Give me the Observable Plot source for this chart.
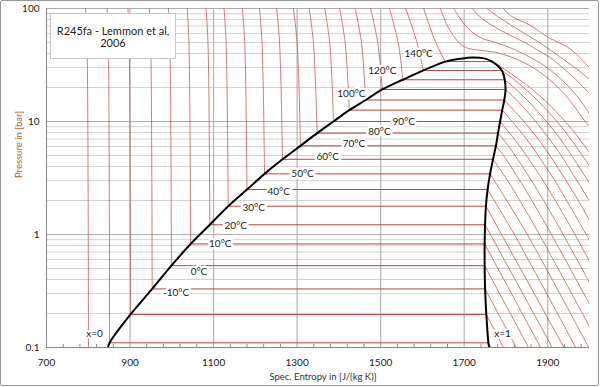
<!DOCTYPE html>
<html>
<head>
<meta charset="utf-8">
<script src="https://cdn.jsdelivr.net/npm/d3@7"></script>
<script src="https://cdn.jsdelivr.net/npm/@observablehq/plot@0.6"></script>
<style>
  body { margin: 0; background: white; }
  #wrap { position: relative; width: 600px; height: 387px; overflow: hidden; }
  #frame { position: absolute; left: 0; top: 0; width: 597px; height: 384px; border: 1px solid #9a9a9a; border-radius: 2px; pointer-events: none; }
  #note { position: absolute; left: 50px; top: 13px; width: 126px; height: 46px; border: 1px solid #c8c8c8; background: white;
          font-family: Lato, "Open Sans", sans-serif; font-size: 11px; line-height: 12px; color: #222; text-align: center;
          box-sizing: border-box; padding-top: 11px; }
</style>
</head>
<body>
<div id="wrap">
  <div id="chart"></div>
  <div id="note">R245fa - Lemmon et al,<br>2006</div>
  <div id="frame"></div>
</div>
<script>
// ---------- axis ticks ----------
const sTicks = [700, 900, 1100, 1300, 1500, 1700, 1900];
const sTickLabels = ["700", "900", "1100", "1300", "1500", "1700", "1900"];
const sMinorTicks = [740,780,820,860,940,980,1020,1060,1140,1180,1220,1260,1340,1380,1420,1460,1540,1580,1620,1660,1740,1780,1820,1860,1940,1980];
const pTicks = [0.1, 1, 10, 100];
const pTickLabels = ["0.1", "1", "10", "100"];
const pMinor = [0.2,0.3,0.4,0.5,0.6,0.7,0.8,0.9,2,3,4,5,6,7,8,9,20,30,40,50,60,70,80,90];

// ---------- saturation (two-phase) ----------
const satT = [-30,-20,-10,0,10,20,30,40,50,60,70,80,90,100,110,120,130,140,150];
const pSat = [0.110,0.196,0.330,0.530,0.825,1.22,1.78,2.50,3.44,4.63,6.09,7.89,10.0,12.6,15.5,19.2,23.4,28.3,33.9];
const sLiq = [851,901,953,999,1045,1091,1135,1180,1222,1265,1308,1348,1387,1425,1464,1504,1553,1602,1655];
const sVap = [1758,1753,1750,1749,1749,1750,1752,1756,1762,1769,1776,1781,1786,1791,1796,1799,1797,1790,1767];

// ---------- liquid-side isotherms (start, 50 bar, 100 bar) ----------
const liqT    = [-40,-30,-20,-10,0,10,20,30,40,50,60,70,80,90,100,110,120,130,140,150];
const liqS0   = [800.5,851,901,953,999,1045,1091,1135,1180,1222,1265,1308,1348,1387,1425,1464,1504,1553,1602,1655];
const liqP0   = [0.1,0.110,0.196,0.330,0.530,0.825,1.22,1.78,2.50,3.44,4.63,6.09,7.89,10.0,12.6,15.5,19.2,23.4,28.3,33.9];
const liqS50  = [797,848,898,949.5,995.5,1041,1086.6,1130,1174.6,1216,1258,1300,1339,1378,1415,1454,1493,1542,1587,1632];
const liqS100 = [793.5,845,895,946,992,1037,1082,1125,1169,1210,1251,1291,1329,1366,1402,1439,1476,1521,1560,1603];

// ---------- vapour / supercritical isotherms: [s, p] ----------
const vapT = [-30,-20,-10,0,10,20,30,40,50,60,70,80,90,100,110,120,130,140,150,160,170,180,190,200];
const vapPaths = [
  [[1758,0.110],[1764,0.1]],
  [[1753,0.196],[1794,0.1]],
  [[1750,0.330],[1825,0.1]],
  [[1749,0.530],[1854,0.1]],
  [[1749,0.825],[1883,0.1]],
  [[1750,1.22],[1911,0.1]],
  [[1752,1.78],[1939,0.1]],
  [[1756,2.50],[1820,1],[1967,0.1]],
  [[1762,3.44],[1851,1],[1998,0.1]],
  [[1769,4.63],[1804,3],[1833,2],[1880,1],[2027,0.1]],
  [[1776,6.09],[1794,5],[1833,3],[1862,2],[1909,1],[2056,0.1]],
  [[1781,7.89],[1793,7],[1822,5],[1861,3],[1890,2],[1937,1],[2084,0.1]],
  [[1786,10.0],[1820,7],[1849,5],[1889,3],[1918,2],[1965,1],[2112,0.1]],
  [[1791,12.6],[1815,10],[1849,7],[1877,5],[1917,3],[1945,2],[1992,1],[2139,0.1]],
  [[1796,15.5],[1843,10],[1877,7],[1905,5],[1944,3],[1973,2],[2019,1]],
  [[1799,19.2],[1829,15],[1871,10],[1904,7],[1932,5],[1970,3],[1999,2],[2046,1]],
  [[1797,23.4],[1819,20],[1854,15],[1897,10],[1930,7],[1957,5],[1996,3],[2025,2]],
  [[1790,28.3],[1804,26],[1842,20],[1878,15],[1922,10],[1955,7],[1983,5],[2022,3]],
  [[1767,33.9],[1779,32],[1791,30],[1857,20],[1896,15],[1942,10],[1976,7],[2005,5]],
  [[1643,100],[1660,70],[1678,55],[1692,48],[1705,45],[1730,43],[1775,41],[1805,38],[1830,35],[1865,30],[1895,25],[1925,20],[1955,15],[1990,10],[2015,8]],
  [[1675,100],[1692,80],[1712,65],[1740,55],[1775,50],[1810,45],[1840,40],[1870,35],[1898,30],[1925,25],[1952,20],[1980,15],[2012,10]],
  [[1719,100],[1745,80],[1775,68],[1810,58],[1845,50],[1875,43],[1905,37],[1935,30],[1965,24],[1995,18.5],[2015,16]],
  [[1755,100],[1780,85],[1810,72],[1845,60],[1880,50],[1910,42],[1940,35],[1970,29],[2000,23.5],[2020,20]],
  [[1794,100],[1811,86.5],[1859,70.6],[1901,55.6],[1954,43.9],[2000,30.1],[2015,27]]
];

// ---------- saturation dome (x=0 / x=1) ----------
const domeS = [847,851,901,953,999,1045,1091,1135,1180,1222,1265,1308,1348,1387,1425,1464,1504,1553,1602,1655,1690,1720,
               1748,1767,1790,1797,1799,1796,1791,1786,1781,1776,1769,1762,1756,1752,1750,1749,1749,1750,1753,1758,1760];
const domeP = [0.1,0.110,0.196,0.330,0.530,0.825,1.22,1.78,2.50,3.44,4.63,6.09,7.89,10.0,12.6,15.5,19.2,23.4,28.3,33.9,35.9,36.9,
               36.2,33.9,28.3,23.4,19.2,15.5,12.6,10.0,7.89,6.09,4.63,3.44,2.50,1.78,1.22,0.825,0.530,0.330,0.196,0.110,0.1];

// ---------- isotherm labels ----------
const labelText = ["-10°C","0°C","10°C","20°C","30°C","40°C","50°C","60°C","70°C","80°C","90°C","100°C","120°C","140°C"];
const labelS    = [1010,1065,1116,1153,1196,1256,1313,1373,1436,1497,1555,1430,1504,1591];
const labelP    = [0.305,0.467,0.822,1.194,1.713,2.40,3.45,4.85,6.3,8.1,9.96,17.7,28.2,40.1];
const qualText  = ["x=0", "x=1"];
const qualS     = [815, 1792];
const qualP     = [0.133, 0.131];

// ---------- build tables ----------
const liqRows = [];
liqT.forEach((T, i) => {
  liqRows.push({id: "L" + T, s: liqS0[i], p: liqP0[i]});
  liqRows.push({id: "L" + T, s: liqS50[i], p: 50});
  liqRows.push({id: "L" + T, s: liqS100[i], p: 100});
});
const vapRows = [];
vapT.forEach((T, i) => vapPaths[i].forEach(([s, p]) => vapRows.push({id: "V" + T, s, p})));
const domeRows = domeS.map((s, i) => ({s, p: domeP[i]}));
const satRows = satT.map((T, i) => ({T, s1: sLiq[i], s2: sVap[i], p: pSat[i]}));

const red = "#c0504d";
const font = "Lato, 'Open Sans', sans-serif";

const chart = Plot.plot({
  width: 600,
  height: 387,
  marginLeft: 46,
  marginRight: 11,
  marginTop: 8,
  marginBottom: 40,
  style: {fontFamily: font, fontSize: "10px", color: "#1a1a1a", background: "white"},
  x: {type: "linear", domain: [700, 2000]},
  y: {type: "log", domain: [0.1, 100]},
  marks: [
    Plot.ruleY(pMinor, {stroke: "#d2d2d2", strokeWidth: 1}),
    Plot.ruleY(pTicks, {stroke: "#aeaeae", strokeWidth: 1}),
    Plot.ruleX(sTicks.slice(1), {stroke: "#b4b4b4", strokeWidth: 1.2}),
    Plot.line(liqRows, {x: "s", y: "p", z: "id", stroke: red, strokeWidth: 0.75, curve: "catmull-rom", clip: true}),
    Plot.link(satRows, {x1: "s1", x2: "s2", y1: "p", y2: "p", stroke: "#b04a46", strokeWidth: 1, clip: true}),
    Plot.line(vapRows, {x: "s", y: "p", z: "id", stroke: red, strokeWidth: 0.75, curve: "catmull-rom", clip: true}),
    Plot.line(domeRows, {x: "s", y: "p", stroke: "black", strokeWidth: 2, curve: "catmull-rom", clip: true}),
    Plot.ruleX([700], {stroke: "#868686"}),
    Plot.ruleY([0.1], {stroke: "#868686"}),
    Plot.axisX({ticks: sMinorTicks, tickSize: -3, tickFormat: () => "", label: null, stroke: "#8a8a8a"}),
    Plot.axisX({ticks: sTicks, tickSize: 0, tickPadding: 11, label: null, tickFormat: d => sTickLabels[sTicks.indexOf(d)], fill: "#1a1a1a"}),
    Plot.axisY({ticks: pTicks, tickSize: 0, tickPadding: 7, label: null, tickFormat: d => pTickLabels[pTicks.indexOf(d)], fill: "#1a1a1a"}),
    Plot.text(labelText, {x: (d, i) => labelS[i], y: (d, i) => labelP[i], text: d => d, fill: "#1a1a1a",
      stroke: "white", strokeWidth: 5, strokeLinejoin: "round", fontSize: 10}),
    Plot.text(qualText, {x: (d, i) => qualS[i], y: (d, i) => qualP[i], text: d => d, fill: "#1a1a1a",
      stroke: "white", strokeWidth: 4, fontSize: 10}),
    Plot.text(["Spec. Entropy in [J/(kg K)]"], {frameAnchor: "bottom", lineAnchor: "middle", dx: 5, dy: 29, fontSize: 9.5, fill: "#333"}),
    Plot.text(["Pressure in [bar]"], {frameAnchor: "left", lineAnchor: "middle", rotate: -90, dx: -28, dy: 0, fontSize: 9.5, fill: "#a8652a"})
  ]
});
document.getElementById("chart").appendChild(chart);
</script>
</body>
</html>
